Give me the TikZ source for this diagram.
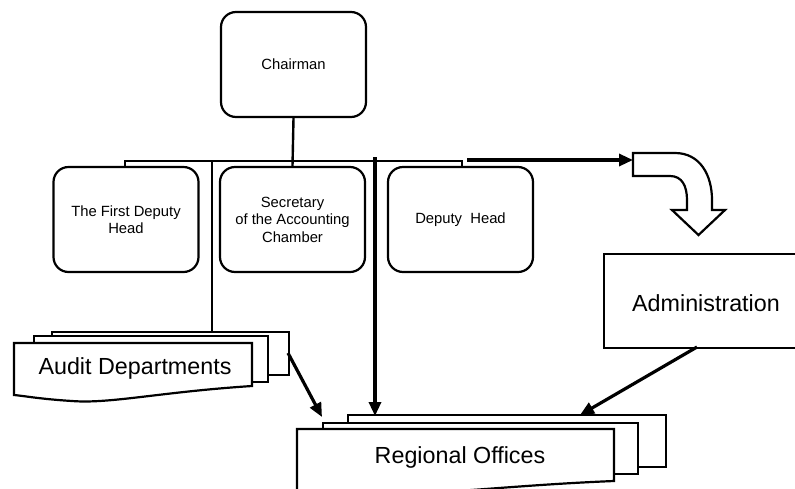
\documentclass[tikz,border=0pt]{standalone}
\usepackage{fontspec}
\setmainfont{Liberation Sans}
\usetikzlibrary{arrows.meta}
\begin{document}
\begin{tikzpicture}[x=1pt,y=-1pt,
  rbox/.style={draw,line width=2.2pt,rounded corners=15pt,minimum width=145pt,minimum height=105pt,font=\fontsize{14.8}{17.5}\selectfont,align=center,inner sep=0pt},
  sheet/.style={draw,line width=2.2pt,fill=white},
  bigtext/.style={font=\fontsize{23.3}{27}\selectfont,inner sep=0pt},
  conn/.style={line width=2.4pt},
  arr/.style={line width=3.2pt,-{Triangle[length=14pt,width=12pt]}}]
\useasboundingbox (0,0) rectangle (795,488);
\begin{scope}
\clip (0,0) rectangle (795,488);
% top boxes
\node[rbox] (ch) at (293.5,64.5) {Chairman};
\node[rbox] (fd) at (126,219.5) {The First Deputy\\Head};
\node[rbox] (sec) at (292.5,219.5) {Secretary\\of the Accounting\\Chamber};
\node[rbox] (dh) at (460.5,219.5) {Deputy\ \ Head};
% bus
\coordinate (busL) at (125,161);
\coordinate (busR) at (462,161);
\draw[conn] (ch.south) -- (sec.north);
\draw[conn] (fd.north -| busL) -- (busL) -- (busR) -- (dh.north -| busR);
% audit stack
\draw[sheet] (52,332) rectangle (289,375);
\draw[sheet] (34,336) rectangle (268,382);
\draw[sheet] (14,343) -- (252,343) -- (252,386) .. controls (160,392) and (110,404) .. (72,401) .. controls (40,399) and (25,396) .. (14,395) -- cycle;
\node[bigtext] (aud) at (135,368) {Audit Departments};
\coordinate (audtop) at (212,332);
% regional stack
\draw[sheet] (348,415) rectangle (666,467);
\draw[sheet] (323,423) rectangle (638,474);
\draw[sheet] (297,429) -- (614,429) -- (614,481) .. controls (540,484) and (480,490) .. (440,492) -- (297,492) -- cycle;
\node[bigtext] (reg) at (460,457) {Regional Offices};
% administration
\node[draw,line width=2.2pt,minimum width=200pt,minimum height=94pt,anchor=north west,inner sep=0pt] (adm) at (603,253) {};
\node[bigtext] at (706,303) {Administration};
% block arrow
\draw[line width=2.2pt,fill=white] (633,153) -- (675,153) .. controls (700,153) and (712,175) .. (712,200) -- (712,210) -- (725,210) -- (698.5,235) -- (672,210) -- (687,210) -- (687,200) .. controls (687,186) and (682,176) .. (670,176) -- (633,176) -- cycle;
\coordinate (blk) at (633,160);
% connectors
\coordinate (vline) at (212,161);
\draw[conn] (vline) -- (audtop);
\coordinate (thickTop) at (375,157);
\coordinate (thickEnd) at (375,416);
\draw[arr] (thickTop) -- (thickEnd);
\coordinate (audOut) at (288,353);
\coordinate (regIn1) at (322,417);
\draw[arr] (audOut) -- (regIn1);
\coordinate (admOut) at (697,347);
\coordinate (regIn2) at (580,415);
\draw[arr] (admOut) -- (regIn2);
\coordinate (busOut) at (467,160);
\draw[arr] (busOut) -- (blk);
\end{scope}
\end{tikzpicture}
\end{document}
